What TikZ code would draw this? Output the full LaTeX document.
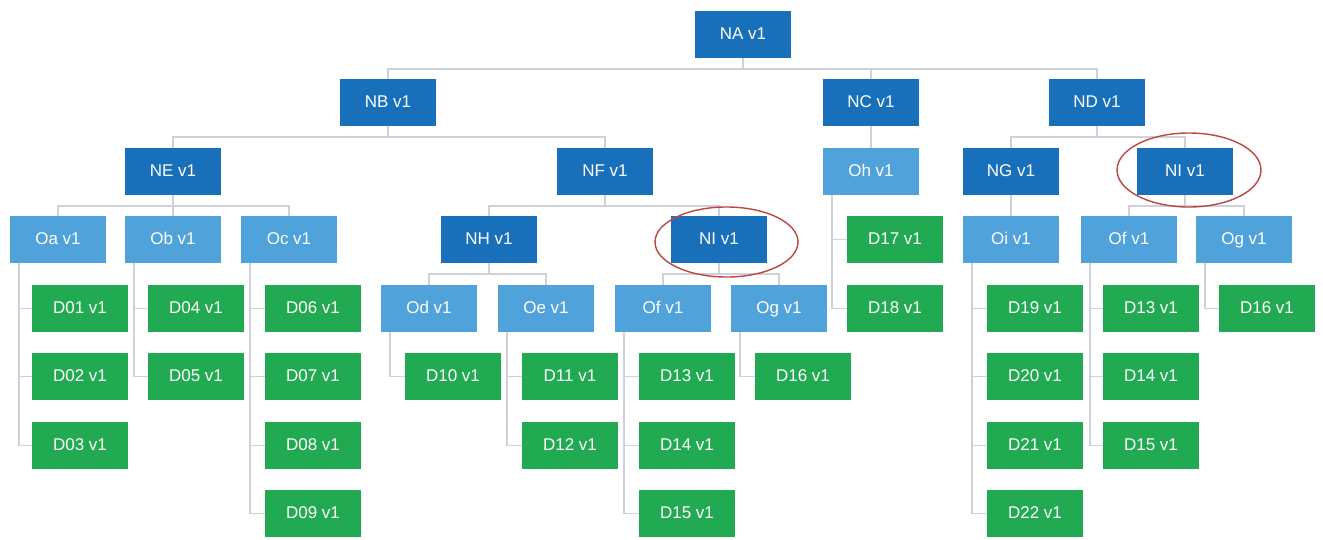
\documentclass[tikz,border=0pt]{standalone}
\usepackage{fontspec}
\setmainfont{Liberation Sans}
\usetikzlibrary{backgrounds}
\definecolor{darkbox}{RGB}{24,112,186}
\definecolor{lightbox}{RGB}{80,162,218}
\definecolor{greenbox}{RGB}{34,170,82}
\definecolor{linkgray}{RGB}{206,209,220}
\definecolor{markred}{RGB}{190,70,66}
\tikzset{
  box/.style={rectangle, minimum width=96pt, minimum height=47pt, inner sep=0pt,
    text height=12.5pt, text depth=3.5pt,
    text=white, font=\fontsize{17}{20}\selectfont},
  nbox/.style={box, fill=darkbox},
  obox/.style={box, fill=lightbox},
  dbox/.style={box, fill=greenbox},
  conn/.style={draw=linkgray, line width=1.6pt},
  ring/.style={draw=markred, line width=1.4pt},
}
\begin{document}
\begin{tikzpicture}[x=1pt, y=-1pt]
\useasboundingbox (0,0) rectangle (1323,539);

% ---- level 0 and 1
\node[nbox] (NA) at (743,34.5) {NA v1};
\node[nbox] (NB) at (388,102.5) {NB v1};
\node[nbox] (NC) at (871,102.5) {NC v1};
\node[nbox] (ND) at (1097,102.5) {ND v1};

% ---- level 2
\node[nbox] (NE) at (173,171.5) {NE v1};
\node[nbox] (NF) at (605,171.5) {NF v1};
\node[obox] (Oh) at (871,171.5) {Oh v1};
\node[nbox] (NG) at (1011,171.5) {NG v1};
\node[nbox] (NIb) at (1185,171.5) {NI v1};

% ---- level 3
\node[obox] (Oa) at (58,239.5) {Oa v1};
\node[obox] (Ob) at (173,239.5) {Ob v1};
\node[obox] (Oc) at (289,239.5) {Oc v1};
\node[nbox] (NH) at (489,239.5) {NH v1};
\node[nbox] (NIa) at (719,239.5) {NI v1};
\node[dbox] (D17) at (895,239.5) {D17 v1};
\node[obox] (Oi) at (1011,239.5) {Oi v1};
\node[obox] (Ofb) at (1129,239.5) {Of v1};
\node[obox] (Ogb) at (1244,239.5) {Og v1};

% ---- level 4
\node[dbox] (D01) at (80,308.5) {D01 v1};
\node[dbox] (D04) at (196,308.5) {D04 v1};
\node[dbox] (D06) at (313,308.5) {D06 v1};
\node[obox] (Od) at (429,308.5) {Od v1};
\node[obox] (Oe) at (546,308.5) {Oe v1};
\node[obox] (Ofa) at (663,308.5) {Of v1};
\node[obox] (Oga) at (779,308.5) {Og v1};
\node[dbox] (D18) at (895,308.5) {D18 v1};
\node[dbox] (D19) at (1035,308.5) {D19 v1};
\node[dbox] (D13b) at (1151,308.5) {D13 v1};
\node[dbox] (D16b) at (1267,308.5) {D16 v1};

% ---- level 5
\node[dbox] (D02) at (80,376.5) {D02 v1};
\node[dbox] (D05) at (196,376.5) {D05 v1};
\node[dbox] (D07) at (313,376.5) {D07 v1};
\node[dbox] (D10) at (453,376.5) {D10 v1};
\node[dbox] (D11) at (570,376.5) {D11 v1};
\node[dbox] (D13a) at (687,376.5) {D13 v1};
\node[dbox] (D16a) at (803,376.5) {D16 v1};
\node[dbox] (D20) at (1035,376.5) {D20 v1};
\node[dbox] (D14b) at (1151,376.5) {D14 v1};

% ---- level 6
\node[dbox] (D03) at (80,445.5) {D03 v1};
\node[dbox] (D08) at (313,445.5) {D08 v1};
\node[dbox] (D12) at (570,445.5) {D12 v1};
\node[dbox] (D14a) at (687,445.5) {D14 v1};
\node[dbox] (D21) at (1035,445.5) {D21 v1};
\node[dbox] (D15b) at (1151,445.5) {D15 v1};

% ---- level 7
\node[dbox] (D09) at (313,513.5) {D09 v1};
\node[dbox] (D15a) at (687,513.5) {D15 v1};
\node[dbox] (D22) at (1035,513.5) {D22 v1};

\begin{scope}[on background layer]
\fill[white] (0,0) rectangle (1323,539);

% ---- bus connectors (parent bottom, horizontal bar, child top)
\foreach \p/\c in {NA/NB, NA/NC, NA/ND, NB/NE, NB/NF, NC/Oh, ND/NG, ND/NIb,
                   NE/Oa, NE/Ob, NE/Oc, NF/NH, NF/NIa, NG/Oi, NIb/Ofb, NIb/Ogb,
                   NH/Od, NH/Oe, NIa/Ofa, NIa/Oga}
  \draw[conn] (\p.south) -- ++(0,10.5) -| (\c.north);

% ---- side trunks (vertical rail near the parent's left edge)
\foreach \p/\c in {Oa/D01, Oa/D02, Oa/D03, Ob/D04, Ob/D05,
                   Oc/D06, Oc/D07, Oc/D08, Oc/D09,
                   Od/D10, Oe/D11, Oe/D12,
                   Ofa/D13a, Ofa/D14a, Ofa/D15a, Oga/D16a,
                   Oh/D17, Oh/D18, Oi/D19, Oi/D20, Oi/D21, Oi/D22,
                   Ofb/D13b, Ofb/D14b, Ofb/D15b, Ogb/D16b}
  \draw[conn] ([xshift=9pt]\p.south west) |- (\c.west);
\end{scope}

% ---- highlight rings
\draw[ring] (726.5,242) ellipse [x radius=71.5, y radius=35];
\draw[ring] (1189,170) ellipse [x radius=72, y radius=37];
\end{tikzpicture}
\end{document}
